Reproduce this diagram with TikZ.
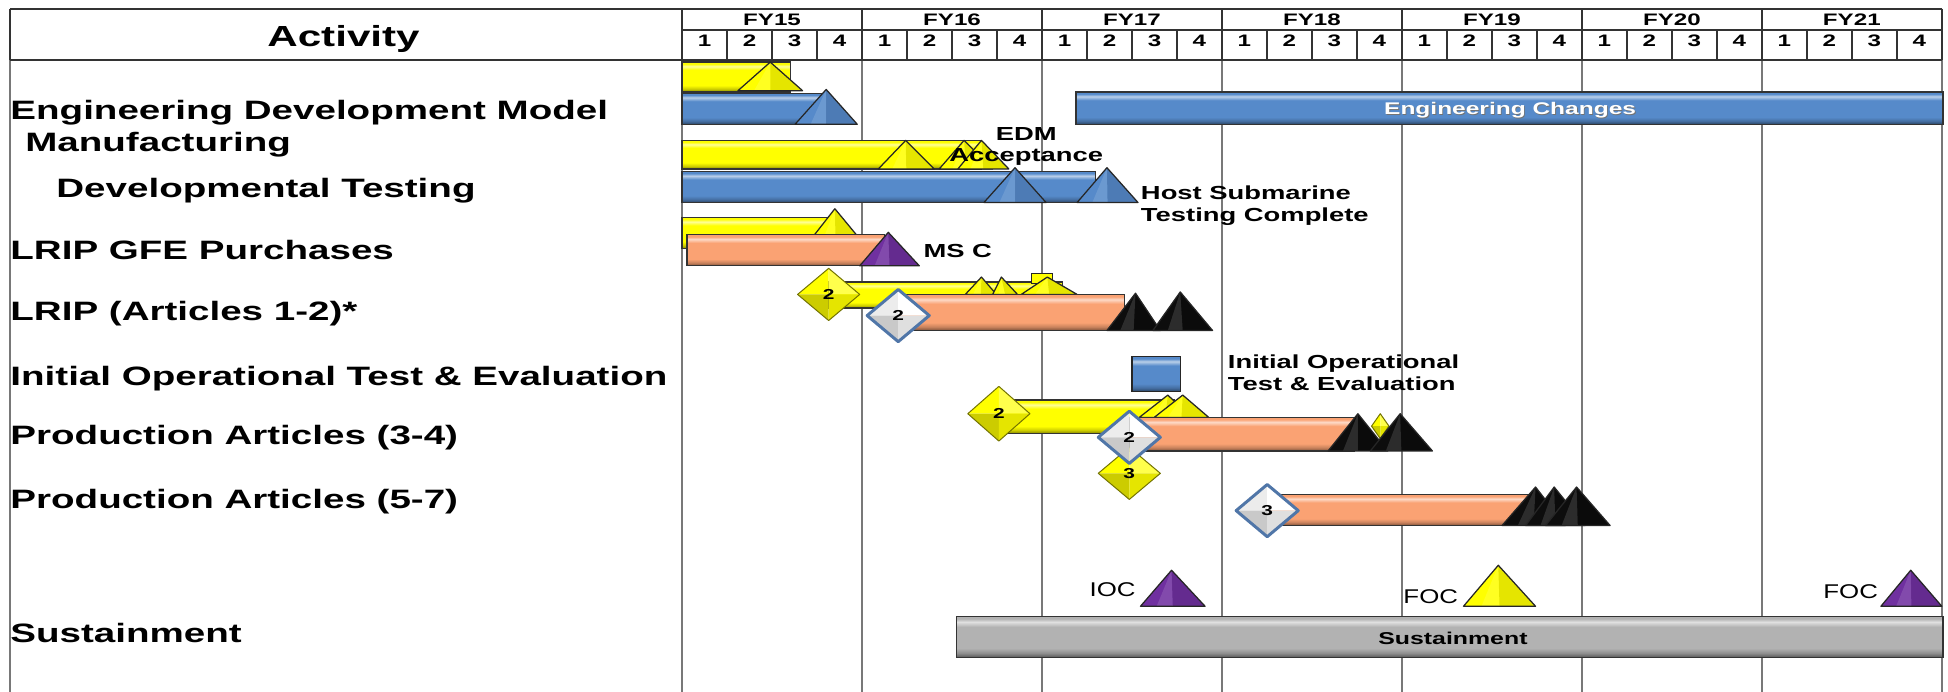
\documentclass[tikz,border=0pt]{standalone}
\usepackage{fontspec}
\setmainfont{Liberation Sans}
\newfontfamily\wf{Liberation Sans}[FakeStretch=1.45]
\newfontfamily\wn{Liberation Sans}[FakeStretch=1.3]
\definecolor{cY}{RGB}{255,255,0}
\definecolor{cB}{RGB}{86,138,202}
\definecolor{cO}{RGB}{250,162,115}
\definecolor{cP}{RGB}{112,48,160}
\definecolor{cG}{RGB}{178,178,178}
\definecolor{gridc}{RGB}{120,120,120}
\definecolor{steel}{RGB}{80,118,168}
\newcommand\mkshade[2]{%
  \colorlet{#1d}{#2!50!black}%
  \colorlet{#1m}{#2!80!black}%
  \colorlet{#1b}{#2}%
  \colorlet{#1l}{#2!40!white}%
  \pgfdeclareverticalshading{#1}{100bp}{color(0bp)=(#1d); color(25bp)=(#1d); color(30bp)=(#1m); color(36bp)=(#1b); color(62bp)=(#1b); color(68bp)=(#1l); color(72bp)=(#1b); color(100bp)=(#1b)}}
\mkshade{shY}{cY}
\mkshade{shB}{cB}
\mkshade{shO}{cO}
\mkshade{shG}{cG}
\newcommand\gbar[5]{\path[shade,shading=#1,draw=black!80,line width=.5pt] (#2,#3) rectangle (#4,#5);}
\newcommand\gtri[6]{%
  \fill[#1] (#2,#3) -- (#4,#6) -- (#5,#6) -- cycle;
  \fill[white,opacity=.13] (#2,#3) -- ({(3*#4+#5)/4},#6) -- ({(#4+#5)/2},#6) -- cycle;
  \fill[black,opacity=.10] (#2,#3) -- ({(#4+#5)/2},#6) -- (#5,#6) -- cycle;
  \draw[black!85,line width=.5pt,line join=round] (#2,#3) -- (#4,#6) -- (#5,#6) -- cycle;}
\newcommand\ydia[6]{%
  \fill[cY] (#2,#3) -- ({#2-#4},#3) -- (#2,{#3-#5}) -- cycle;
  \fill[cY!70!white] (#2,#3) -- (#2,{#3-#5}) -- ({#2+#4},#3) -- cycle;
  \fill[cY!80!black] (#2,#3) -- ({#2-#4},#3) -- (#2,{#3+#5}) -- cycle;
  \fill[cY!90!black] (#2,#3) -- ({#2+#4},#3) -- (#2,{#3+#5}) -- cycle;
  \draw[cY!45!black,line width=.4pt,line join=round] ({#2-#4},#3) -- (#2,{#3-#5}) -- ({#2+#4},#3) -- (#2,{#3+#5}) -- cycle;
  \node[dnum] (#1) at (#2,#3) {#6};}
\newcommand\wdia[6]{%
  \fill[gray!15] (#2,#3) -- ({#2-#4},#3) -- (#2,{#3-#5}) -- cycle;
  \fill[white] (#2,#3) -- (#2,{#3-#5}) -- ({#2+#4},#3) -- cycle;
  \fill[gray!42] (#2,#3) -- ({#2-#4},#3) -- (#2,{#3+#5}) -- cycle;
  \fill[gray!25] (#2,#3) -- ({#2+#4},#3) -- (#2,{#3+#5}) -- cycle;
  \draw[steel,line width=1.2pt,line join=round] ({#2-#4},#3) -- (#2,{#3-#5}) -- ({#2+#4},#3) -- (#2,{#3+#5}) -- cycle;
  \node[dnum] (#1) at (#2,#3) {#6};}
\begin{document}
\begin{tikzpicture}[x=0.5pt,y=-0.5pt,
  hdrline/.style={black!80,line width=.7pt},
  bodyline/.style={gridc,line width=.8pt},
  lab/.style={anchor=base west,inner sep=0,font=\wf\bfseries\fontsize{10.7}{12}\selectfont},
  sm/.style={inner sep=0,font=\wf\bfseries\fontsize{7.6}{9}\selectfont},
  mil/.style={anchor=base east,inner sep=0,font=\wn\fontsize{8}{9}\selectfont},
  hd/.style={anchor=base,inner sep=0,font=\wf\bfseries\fontsize{6.7}{8}\selectfont},
  dnum/.style={inner sep=0,font=\wf\bfseries\fontsize{5.8}{7}\selectfont}]
\useasboundingbox (0,0) rectangle (1568,557);
\fill[white] (0,0) rectangle (1568,557);
% body grid
\foreach \i in {0,...,7}{\draw[bodyline] ({549+\i*144.857},48) -- ({549+\i*144.857},557);}
\draw[bodyline] (8,48) -- (8,557);
% header grid
\draw[hdrline] (8,7) -- (1563,7);
\draw[hdrline] (8,48) -- (1563,48);
\draw[hdrline] (549,24) -- (1563,24);
\draw[hdrline] (8,7) -- (8,48);
\foreach \i in {0,...,7}{\draw[hdrline] ({549+\i*144.857},7) -- ({549+\i*144.857},48);}
\foreach \q in {1,...,27}{\draw[hdrline] ({549+\q*36.214},24) -- ({549+\q*36.214},48);}
\node[anchor=base,inner sep=0,font=\wf\bfseries\fontsize{11.7}{13}\selectfont] (act) at (276.5,37.2) {Activity};
\foreach \y/\n in {0/15,1/16,2/17,3/18,4/19,5/20,6/21}{
  \node[hd] (fy\n) at ({549+(\y+0.5)*144.857},20.3) {FY\n};
  \foreach \q in {1,...,4}{\node[hd] (q\n\q) at ({549+\y*144.857+(\q-0.5)*36.214},37.4) {\q};}
}
% labels
\node[lab] (l1) at (8,96.5) {Engineering Development Model};
\node[lab] (l1b) at (20,122) {Manufacturing};
\node[lab] (l2) at (45,159) {Developmental Testing};
\node[lab] (l3) at (8,209) {LRIP GFE Purchases};
\node[lab] (l4) at (8,258) {LRIP (Articles 1-2)*};
\node[lab] (l5) at (8,310) {Initial Operational Test \& Evaluation};
\node[lab] (l6) at (8,358) {Production Articles (3-4)};
\node[lab] (l7) at (8,409) {Production Articles (5-7)};
\node[lab] (l8) at (8,517.5) {Sustainment};
% EDM manufacturing
\gbar{shY}{549}{50}{636}{74}
\gtri{cY}{620}{50}{594}{646}{73}
\gbar{shB}{549}{75}{662}{100}
\gtri{cB}{665}{72}{640}{690}{100}
\gbar{shB}{866}{74}{1564}{100}
\node[anchor=base,inner sep=0,font=\wf\bfseries\fontsize{6.8}{8}\selectfont,text=black!55] (ecs) at (1216.2,92.7) {Engineering Changes};
\node[anchor=base,inner sep=0,font=\wf\bfseries\fontsize{6.8}{8}\selectfont,text=white] (ec) at (1215.5,92) {Engineering Changes};
% Developmental testing
\gbar{shY}{549}{113}{790}{136}
\gtri{cY}{729}{113}{707}{752}{136}
\gtri{cY}{776}{113}{756}{799}{136}
\gtri{cY}{790}{113}{771}{812}{136}
\gbar{shB}{549}{138}{882}{163}
\gtri{cB}{817}{135}{792}{842}{163}
\gtri{cB}{891}{135}{867}{916}{163}
\node[sm,anchor=base] (edm1) at (826,112.7) {EDM};
\node[sm,anchor=base] (edm2) at (826,130) {Acceptance};
\node[sm,anchor=base west] (hs1) at (918,160.4) {Host Submarine};
\node[sm,anchor=base west] (hs2) at (918,178.4) {Testing Complete};
% LRIP GFE
\gbar{shY}{549}{175}{672}{200}
\gtri{cY}{672}{168}{654}{691}{191}
\gbar{shO}{553}{189}{712}{214}
\gtri{cP}{715}{187}{692}{740}{214}
\node[sm,anchor=base west] (msc) at (743,207) {MS C};
% LRIP articles 1-2
\gbar{shY}{667}{227}{855}{248}
\gtri{cY}{790}{223}{777}{802}{237}
\gtri{cY}{806}{223}{799}{819}{237}
\path[fill=cY,draw=black!85,line width=.5pt] (830,220) rectangle (847,228);
\gtri{cY}{843}{223}{822}{867}{237}
\ydia{d1}{667}{237}{25}{21}{2}
\gbar{shO}{723}{237}{905}{266}
\gtri{black!95}{914}{236}{891}{934}{266}
\gtri{black!95}{950}{235}{928}{976}{266}
\wdia{d2}{723}{254}{25}{21}{2}
% IOT&E
\path[shade,shading=shB,draw=black!85,line width=.6pt] (911,287) rectangle (950,315);
\node[sm,anchor=base west] (io1) at (988,296.5) {Initial Operational};
\node[sm,anchor=base west] (io2) at (988,314.5) {Test \& Evaluation};
% Production 3-4
\gbar{shY}{804}{322}{945}{349}
\gtri{cY}{940}{318}{917}{959}{336}
\gtri{cY}{952}{318}{929}{973}{336}
\ydia{d3}{804}{333}{25}{22}{2}
\gbar{shO}{909}{336}{1090}{363}
\gtri{black!95}{1093}{333}{1069}{1117}{363}
\ydia{d4}{1111}{343}{7}{10}{}
\gtri{black!95}{1127}{333}{1103}{1153}{363}
\ydia{d5}{909}{381}{25}{21}{3}
\wdia{d6}{909}{352}{25}{21}{2}
% Production 5-7
\gbar{shO}{1020}{398}{1236}{423}
\gtri{black!95}{1236}{392}{1209}{1260}{423}
\gtri{black!95}{1251}{392}{1228}{1276}{423}
\gtri{black!95}{1269}{392}{1244}{1296}{423}
\wdia{d7}{1020}{411}{25}{21}{3}
% milestones
\gtri{cP}{943}{459}{918}{970}{488}
\node[mil] (ioc) at (914.5,480.3) {IOC};
\gtri{cY}{1206}{455}{1178}{1236}{488}
\node[mil] (foc1) at (1174,485.7) {FOC};
\gtri{cP}{1538}{459}{1514}{1563}{488}
\node[mil] (foc2) at (1512,481.7) {FOC};
% sustainment
\gbar{shG}{770}{496}{1564}{529}
\node[anchor=base,inner sep=0,font=\wf\bfseries\fontsize{6.9}{8}\selectfont] (sus) at (1169.5,519) {Sustainment};
\end{tikzpicture}
\end{document}
